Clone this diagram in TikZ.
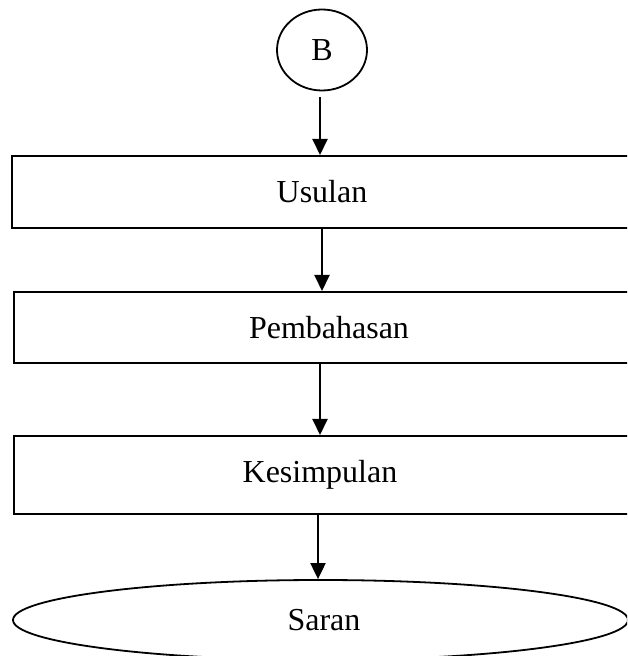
\documentclass[tikz,border=0pt]{standalone}
\usepackage{fontspec}
\setmainfont{Liberation Serif}
\usetikzlibrary{arrows.meta,shapes.geometric}
\tikzset{
  boxnode/.style={draw, line width=2pt, rectangle, inner sep=0pt},
  ovalnode/.style={draw, line width=1.8pt, ellipse, inner sep=0pt},
  txt/.style={font=\fontsize{32}{37}\selectfont, inner sep=0pt},
  arr/.style={line width=2pt, -{Triangle[length=16pt,width=15pt]}}
}
\begin{document}
\begin{tikzpicture}[x=1pt,y=1pt]
\useasboundingbox (0,0) rectangle (627,656);
\clip (0,0) rectangle (627,656);
\fill[white] (0,0) rectangle (627,656);
% connector B
\node[ovalnode, minimum width=90pt, minimum height=81pt] (c) at (322,606) {};
\node[txt] (tc) at (322,606) {B};
% boxes
\node[boxnode, minimum width=633pt, minimum height=72pt] (b1) at (328.5,464) {};
\node[txt] (t1) at (322,464) {Usulan};
\node[boxnode, minimum width=631pt, minimum height=71pt] (b2) at (329.5,328.5) {};
\node[txt] (t2) at (329,328.5) {Pembahasan};
\node[boxnode, minimum width=631pt, minimum height=78pt] (b3) at (329.5,181) {};
\node[txt] (t3) at (320,181) {Kesimpulan};
% terminal
\node[ovalnode, minimum width=615pt, minimum height=80pt] (e) at (320.5,36) {};
\node[txt] (te) at (324,36) {Saran};
% arrows
\draw[arr, shorten <=6pt] ([xshift=-2pt]c.south) -- ([xshift=-8.5pt]b1.north);
\draw[arr] ([xshift=-6.5pt]b1.south) -- ([xshift=-7.5pt]b2.north);
\draw[arr] ([xshift=-9.5pt]b2.south) -- ([xshift=-9.5pt]b3.north);
\draw[arr] ([xshift=-11.5pt]b3.south) -- ([xshift=-2.5pt]e.north);
\end{tikzpicture}
\end{document}
